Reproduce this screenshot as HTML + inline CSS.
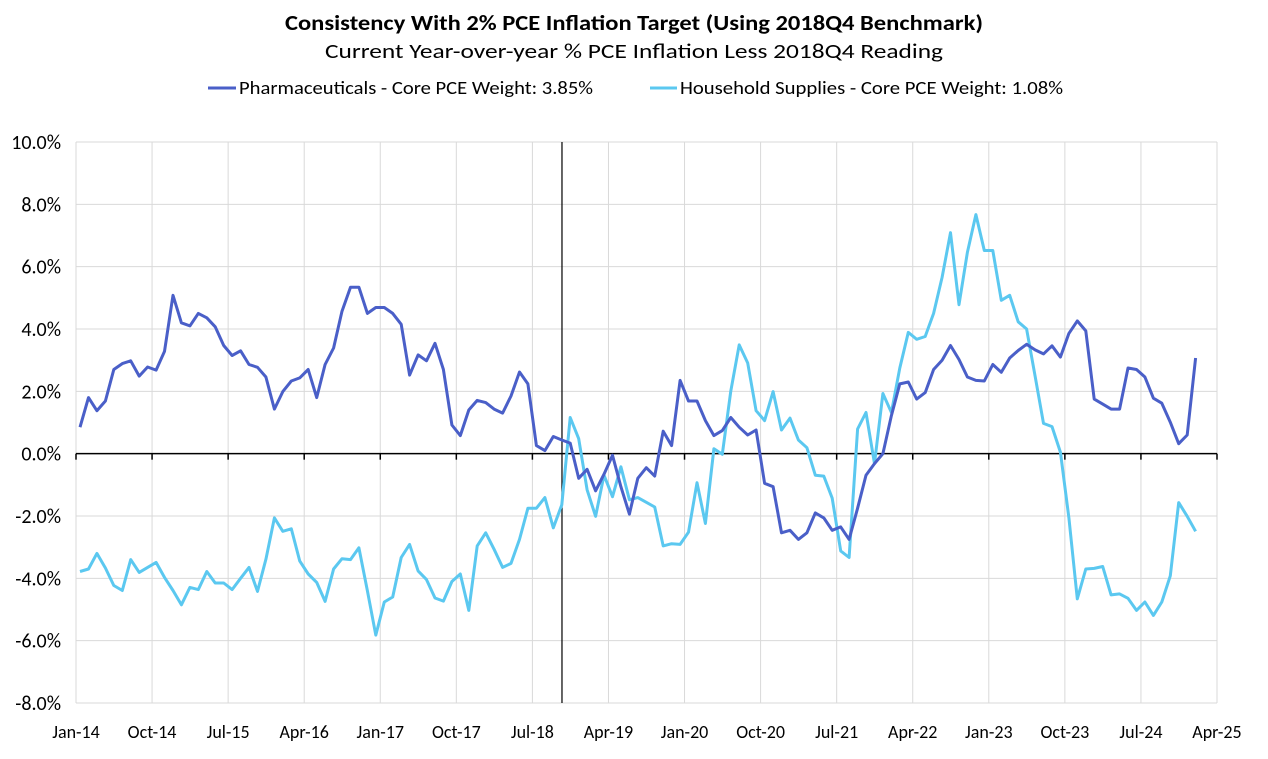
<!DOCTYPE html>
<html><head><meta charset="utf-8">
<style>
body{margin:0;background:#fff;font-family:"Liberation Sans",sans-serif;}
svg text{font-family:"Carlito","Liberation Sans",sans-serif;fill:#000;}
</style></head>
<body>
<svg id="chart" width="1268" height="754" viewBox="0 0 1268 754" xmlns="http://www.w3.org/2000/svg">
<rect width="1268" height="754" fill="#fff"/>
<text x="285" y="30" font-size="21" font-weight="bold" textLength="698" lengthAdjust="spacingAndGlyphs">Consistency With 2% PCE Inflation Target (Using 2018Q4 Benchmark)</text>
<text x="325" y="58" font-size="20" textLength="618" lengthAdjust="spacingAndGlyphs">Current Year-over-year % PCE Inflation Less 2018Q4 Reading</text>
<g>
<line x1="208" y1="88" x2="236" y2="88" stroke="#4a5fc8" stroke-width="3"/>
<text x="239" y="94" font-size="18" textLength="354" lengthAdjust="spacingAndGlyphs">Pharmaceuticals - Core PCE Weight: 3.85%</text>
<line x1="650" y1="88" x2="677" y2="88" stroke="#5bc8f0" stroke-width="3"/>
<text x="680" y="94" font-size="18" textLength="383" lengthAdjust="spacingAndGlyphs">Household Supplies - Core PCE Weight: 1.08%</text>
</g>
<g id="grid"></g>
<g id="axes"></g>
<g id="series"></g>
</svg>
<script>
const yTicks=[10,8,6,4,2,0,-2,-4,-6,-8];
const yTickLabels=["10.0%","8.0%","6.0%","4.0%","2.0%","0.0%","-2.0%","-4.0%","-6.0%","-8.0%"];
const xTickLabels=["Jan-14","Oct-14","Jul-15","Apr-16","Jan-17","Oct-17","Jul-18","Apr-19","Jan-20","Oct-20","Jul-21","Apr-22","Jan-23","Oct-23","Jul-24","Apr-25"];
const benchmarkMonth=57.5;
const pharma=[0.85,1.8,1.38,1.69,2.7,2.89,2.98,2.49,2.78,2.68,3.28,5.08,4.2,4.1,4.5,4.36,4.07,3.47,3.15,3.3,2.86,2.77,2.46,1.43,1.99,2.33,2.43,2.7,1.8,2.86,3.39,4.57,5.34,5.34,4.5,4.69,4.69,4.5,4.15,2.52,3.17,2.98,3.54,2.7,0.92,0.58,1.4,1.71,1.64,1.43,1.3,1.85,2.62,2.24,0.26,0.1,0.55,0.44,0.34,-0.79,-0.5,-1.19,-0.66,-0.05,-1.06,-1.94,-0.79,-0.45,-0.72,0.72,0.26,2.35,1.69,1.69,1.06,0.58,0.74,1.16,0.85,0.6,0.76,-0.95,-1.06,-2.54,-2.46,-2.75,-2.54,-1.9,-2.06,-2.46,-2.35,-2.75,-1.75,-0.69,-0.32,0.0,1.22,2.24,2.3,1.75,1.96,2.7,3.0,3.47,3.02,2.46,2.35,2.33,2.86,2.61,3.07,3.31,3.51,3.33,3.2,3.46,3.1,3.86,4.26,3.94,1.75,1.59,1.43,1.43,2.75,2.7,2.46,1.78,1.62,1.01,0.32,0.6,3.07];
const household=[-3.78,-3.7,-3.2,-3.67,-4.23,-4.39,-3.4,-3.81,-3.65,-3.49,-3.97,-4.39,-4.85,-4.29,-4.36,-3.78,-4.15,-4.15,-4.36,-4.0,-3.65,-4.42,-3.39,-2.06,-2.49,-2.41,-3.44,-3.86,-4.13,-4.74,-3.7,-3.37,-3.4,-3.02,-4.4,-5.82,-4.76,-4.6,-3.33,-2.91,-3.76,-4.04,-4.63,-4.73,-4.1,-3.86,-5.03,-2.96,-2.54,-3.07,-3.65,-3.52,-2.75,-1.75,-1.75,-1.41,-2.38,-1.64,1.16,0.48,-1.16,-2.01,-0.69,-1.38,-0.42,-1.48,-1.41,-1.56,-1.71,-2.96,-2.89,-2.91,-2.52,-0.93,-2.24,0.16,-0.02,2.01,3.49,2.91,1.38,1.06,1.99,0.76,1.14,0.44,0.19,-0.69,-0.72,-1.43,-3.12,-3.33,0.79,1.32,-0.32,1.93,1.32,2.75,3.89,3.67,3.76,4.5,5.66,7.09,4.78,6.46,7.67,6.52,6.52,4.92,5.08,4.23,4.0,2.49,0.97,0.87,0.05,-2.06,-4.66,-3.7,-3.68,-3.62,-4.53,-4.5,-4.64,-5.03,-4.76,-5.19,-4.76,-3.92,-1.57,-2.01,-2.49];

const NS="http://www.w3.org/2000/svg";
const L=76,R=1217,T=142,B=703;
const monthPx=(R-L)/135;
function xScale(m){return L+4+m*monthPx;}
function xTickPos(k){return L+k*9*monthPx;}
function yScale(v){return B-(v+8)/18*(B-T);}
function mk(tag,attrs,parent){const e=document.createElementNS(NS,tag);for(const k in attrs)e.setAttribute(k,attrs[k]);parent.appendChild(e);return e;}
const grid=document.getElementById('grid'),axes=document.getElementById('axes'),series=document.getElementById('series');

yTicks.forEach((v,i)=>{
  const y=yScale(v);
  if(v!==0){const g=mk('line',{x1:L,x2:R,y1:y,y2:y,stroke:'#d9d9d9','stroke-width':1},grid);
  
  }
  const t=mk('text',{x:61,y:y+7,'text-anchor':'end','font-size':20},axes);
  t.textContent=yTickLabels[i];
  
  
});
xTickLabels.forEach((lab,k)=>{
  const x=xTickPos(k);
  const g=mk('line',{x1:x,x2:x,y1:T,y2:B,stroke:'#d9d9d9','stroke-width':1},grid);
  
  
  const tk=mk('line',{x1:x,x2:x,y1:yScale(0),y2:yScale(0)+6,stroke:'#000','stroke-width':1.5},axes);
  
  
  const t=mk('text',{x:x,y:738,'text-anchor':'middle','font-size':18},axes);
  t.textContent=lab;
  
  
});
const zl=mk('line',{x1:L,x2:R,y1:yScale(0),y2:yScale(0),stroke:'#000','stroke-width':1.5},axes);


const bx=xScale(benchmarkMonth)-4;
const bl=mk('line',{x1:bx,x2:bx,y1:T,y2:B,stroke:'#000','stroke-width':1.2},axes);



function draw(data,color,name){
  const d=data.map((v,i)=>(i?'L':'M')+xScale(i).toFixed(1)+','+yScale(v).toFixed(1)).join(' ');
  const p=mk('path',{d:d,fill:'none',stroke:color,'stroke-width':3,'stroke-linejoin':'round'},series);
  
  
}
draw(household,'#5bc8f0','household-supplies-line');
draw(pharma,'#4a5fc8','pharmaceuticals-line');
</script>
</body></html>
